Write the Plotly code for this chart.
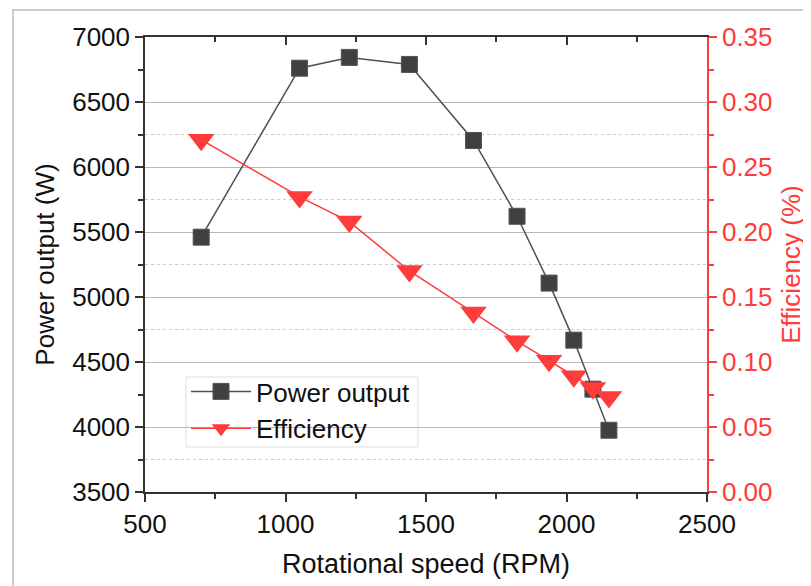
import plotly.graph_objects as go

# ---- data ----
rpm = [700, 1050, 1227, 1441, 1669, 1824, 1938, 2026, 2094, 2151]
power_w = [5460, 6760, 6843, 6789, 6204, 5621, 5107, 4668, 4291, 3975]
efficiency = [0.271, 0.227, 0.208, 0.170, 0.138, 0.116, 0.101, 0.089, 0.080, 0.073]

x_ticks = [500, 1000, 1500, 2000, 2500]
y_ticks = [3500, 4000, 4500, 5000, 5500, 6000, 6500, 7000]
y2_ticks = [0.00, 0.05, 0.10, 0.15, 0.20, 0.25, 0.30, 0.35]
dotted_grid = [6250, 5750, 5250, 4750, 3750]

W, H = 811, 586
OFF = 8  # default page body margin
# target plot area in window pixels: x 145..707, y 37..492
L, T = 145 - OFF, 37 - OFF
R = W - (707 - OFF)
B = H - (492 - OFF)
pw, ph = W - L - R, H - T - B


def px_x(wx):
    return (wx - OFF - L) / pw


def px_y(wy):
    return (H - B - (wy - OFF)) / ph


FONT = "Liberation Sans, Arial, sans-serif"
DARK = "#333333"
RED = "#ff3b3b"

fig = go.Figure()
fig.add_trace(go.Scatter(
    x=rpm, y=power_w, name="Power output", mode="lines+markers",
    line=dict(color="#505050", width=1.5),
    marker=dict(symbol="square", size=16, color="#404040",
                line=dict(color="#555555", width=1)),
    xaxis="x", yaxis="y"))
fig.add_trace(go.Scatter(
    x=rpm, y=efficiency, name="Efficiency", mode="lines+markers",
    line=dict(color=RED, width=1.5),
    marker=dict(symbol="triangle-down", size=23, color=RED,
                line=dict(color=RED, width=0)),
    xaxis="x", yaxis="y2"))

shapes = []
for v in dotted_grid:
    shapes.append(dict(type="line", xref="paper", yref="y", x0=0, x1=1, y0=v, y1=v,
                       line=dict(color="#cccccc", width=1, dash="dot"), layer="below"))
# outer light frame (window px 13, 10)
shapes.append(dict(type="rect", xref="paper", yref="paper",
                   x0=px_x(13), x1=px_x(W + 40),
                   y0=px_y(H + 40), y1=px_y(10),
                   line=dict(color="#cccccc", width=2), fillcolor="rgba(0,0,0,0)", layer="below"))
# legend box
shapes.append(dict(type="rect", xref="paper", yref="paper",
                   x0=px_x(186), x1=px_x(418), y0=px_y(447), y1=px_y(377),
                   line=dict(color="#dddddd", width=1), fillcolor="white", layer="between"))

tickfont = dict(family=FONT, size=26, color="#111111")
fig.update_layout(
    width=W, height=H,
    margin=dict(l=L, r=R, t=T, b=B),
    paper_bgcolor="white", plot_bgcolor="white",
    showlegend=True,
    legend=dict(x=px_x(186), y=px_y(368), xanchor="left", yanchor="top",
                bgcolor="rgba(0,0,0,0)", borderwidth=0,
                font=dict(family=FONT, size=26, color="#111111"),
                tracegroupgap=0, itemwidth=60),
    shapes=shapes,
    xaxis=dict(range=[500, 2500], tickvals=x_ticks, ticks="outside", ticklen=8,
               tickcolor=DARK, tickwidth=1.5, showline=True, linecolor=DARK, linewidth=1.5,
               showgrid=False, zeroline=False, tickfont=tickfont, automargin=False,
               minor=dict(dtick=250, ticks="outside", ticklen=5, tickcolor=DARK, tickwidth=1.5),
               title=dict(text="Rotational speed (RPM)", font=dict(family=FONT, size=27, color="#111111"),
                          standoff=16)),
    xaxis3=dict(range=[500, 2500], overlaying="x", side="top", tickvals=x_ticks,
                ticks="inside", ticklen=8, tickcolor=DARK, tickwidth=1.5,
                showline=True, linecolor=DARK, linewidth=1.5, showticklabels=False,
                showgrid=False, zeroline=False, automargin=False,
                minor=dict(dtick=250, ticks="inside", ticklen=5, tickcolor=DARK, tickwidth=1.5)),
    yaxis=dict(range=[3500, 7000], tickvals=y_ticks, ticks="outside", ticklen=8,
               tickcolor=DARK, tickwidth=1.5, showline=True, linecolor=DARK, linewidth=1.5,
               showgrid=True, gridcolor="#b8b8b8", gridwidth=1.2, zeroline=False,
               tickfont=tickfont, automargin=False,
               minor=dict(dtick=250, ticks="outside", ticklen=5, tickcolor=DARK, tickwidth=1.5),
               title=dict(text="Power output (W)", font=dict(family=FONT, size=26, color="#111111"),
                          standoff=10)),
    yaxis2=dict(range=[0, 0.35], tickvals=y2_ticks, tickformat=".2f", overlaying="y", side="right",
                ticks="outside", ticklen=8, tickcolor=RED, tickwidth=1.5,
                showline=True, linecolor=RED, linewidth=1.5, showgrid=False, zeroline=False,
                tickfont=dict(family=FONT, size=26, color=RED), automargin=False,
                minor=dict(dtick=0.025, ticks="outside", ticklen=5, tickcolor=RED, tickwidth=1.5),
                title=dict(text="Efficiency (%)", font=dict(family=FONT, size=26, color=RED),
                           standoff=10)),
)
# dummy trace to activate top axis
fig.add_trace(go.Scatter(x=[None], y=[None], xaxis="x3", yaxis="y", showlegend=False,
                         hoverinfo="skip"))

fig.write_html("out.html")
